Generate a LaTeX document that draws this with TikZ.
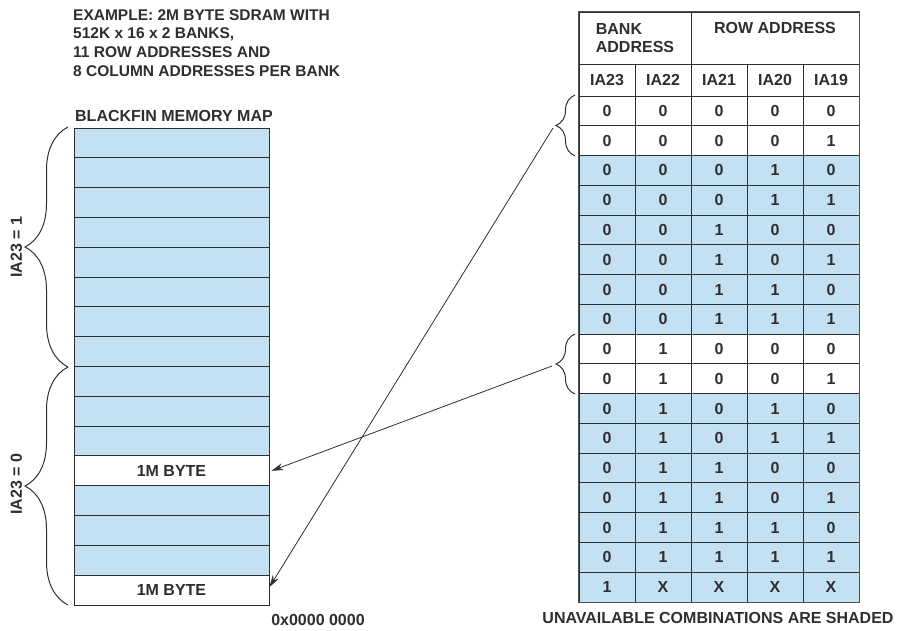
\documentclass[tikz,border=0pt]{standalone}
\usepackage{fontspec}
\setmainfont{Liberation Sans}
\usetikzlibrary{arrows.meta,decorations.pathreplacing,positioning}

\definecolor{mapblue}{HTML}{C4E1F3}
\definecolor{inkgray}{HTML}{2E2E2E}
\definecolor{framegray}{HTML}{505050}

\tikzset{
  txt/.style={text=inkgray, font=\bfseries\fontsize{16}{18.8}\selectfont, inner sep=0pt},
  maprow/.style={draw=inkgray, line width=0.9pt, fill=mapblue, minimum width=195pt, minimum height=29.81pt, inner sep=0pt, txt},
  emptyrow/.style={maprow, fill=white},
  cell/.style={draw=inkgray, line width=0.9pt, minimum width=56pt, minimum height=29.76pt, inner sep=0pt, txt},
  shcell/.style={cell, fill=mapblue},
  hcell/.style={cell, minimum height=32pt},
  bracepath/.style={draw=inkgray, line width=1pt, decorate, decoration={brace, amplitude=#1}},
  link/.style={draw=inkgray, line width=0.8pt, -{Stealth[length=12pt, width=7pt]}}
}

\begin{document}
\begin{tikzpicture}[x=1pt, y=-1pt]
\useasboundingbox (0,0) rectangle (899,630);

% notes
\node[txt, font=\bfseries\fontsize{15.5}{18.8}\selectfont, align=left, anchor=north west] (title) at (73,9) {EXAMPLE: 2M BYTE SDRAM WITH\\512K x 16 x 2 BANKS,\\11 ROW ADDRESSES AND\\8 COLUMN ADDRESSES PER BANK};
\node[txt] (maptitle) at (174,116) {BLACKFIN MEMORY MAP};

% memory map
\node[maprow] (m1) at (171.5,142.91) {};
\node[maprow] (m2) at (171.5,172.72) {};
\node[maprow] (m3) at (171.5,202.53) {};
\node[maprow] (m4) at (171.5,232.34) {};
\node[maprow] (m5) at (171.5,262.16) {};
\node[maprow] (m6) at (171.5,291.97) {};
\node[maprow] (m7) at (171.5,321.78) {};
\node[maprow] (m8) at (171.5,351.59) {};
\node[maprow] (m9) at (171.5,381.41) {};
\node[maprow] (m10) at (171.5,411.22) {};
\node[maprow] (m11) at (171.5,441.03) {};
\node[emptyrow] (m12) at (171.5,470.84) {1M BYTE};
\node[maprow] (m13) at (171.5,500.66) {};
\node[maprow] (m14) at (171.5,530.47) {};
\node[maprow] (m15) at (171.5,560.28) {};
\node[emptyrow] (m16) at (171.5,590.09) {1M BYTE};
\node[txt] (base) at (318,620) {0x0000 0000};

% bank braces
\draw[bracepath=43pt] (68,367) -- (68,127);
\draw[bracepath=43pt] (68,605) -- (68,367);
\node[txt, rotate=90] (bank1) at (16.5,247) {IA23 = 1};
\node[txt, rotate=90] (bank0) at (16.5,484) {IA23 = 0};

% address table
\node[hcell, minimum width=112pt, minimum height=52pt, align=left] (bank) at (635,38) {BANK\\ADDRESS};
\node[hcell, minimum width=168pt, minimum height=52pt] (rowhd) at (775,38) {};
\node[txt, below=11pt of rowhd.north] (rowtxt) {ROW ADDRESS};
\node[hcell] (ia23) at (607,80) {IA23};
\node[hcell] (ia22) at (663,80) {IA22};
\node[hcell] (ia21) at (719,80) {IA21};
\node[hcell] (ia20) at (775,80) {IA20};
\node[hcell] (ia19) at (831,80) {IA19};

\node[cell] (r1a) at (607,110.9) {0}; \node[cell] (r1b) at (663,110.9) {0}; \node[cell] (r1c) at (719,110.9) {0}; \node[cell] (r1d) at (775,110.9) {0}; \node[cell] (r1e) at (831,110.9) {0};
\node[cell] (r2a) at (607,140.6) {0}; \node[cell] (r2b) at (663,140.6) {0}; \node[cell] (r2c) at (719,140.6) {0}; \node[cell] (r2d) at (775,140.6) {0}; \node[cell] (r2e) at (831,140.6) {1};
\node[shcell] (r3a) at (607,170.4) {0}; \node[shcell] (r3b) at (663,170.4) {0}; \node[shcell] (r3c) at (719,170.4) {0}; \node[shcell] (r3d) at (775,170.4) {1}; \node[shcell] (r3e) at (831,170.4) {0};
\node[shcell] (r4a) at (607,200.2) {0}; \node[shcell] (r4b) at (663,200.2) {0}; \node[shcell] (r4c) at (719,200.2) {0}; \node[shcell] (r4d) at (775,200.2) {1}; \node[shcell] (r4e) at (831,200.2) {1};
\node[shcell] (r5a) at (607,229.9) {0}; \node[shcell] (r5b) at (663,229.9) {0}; \node[shcell] (r5c) at (719,229.9) {1}; \node[shcell] (r5d) at (775,229.9) {0}; \node[shcell] (r5e) at (831,229.9) {0};
\node[shcell] (r6a) at (607,259.7) {0}; \node[shcell] (r6b) at (663,259.7) {0}; \node[shcell] (r6c) at (719,259.7) {1}; \node[shcell] (r6d) at (775,259.7) {0}; \node[shcell] (r6e) at (831,259.7) {1};
\node[shcell] (r7a) at (607,289.5) {0}; \node[shcell] (r7b) at (663,289.5) {0}; \node[shcell] (r7c) at (719,289.5) {1}; \node[shcell] (r7d) at (775,289.5) {1}; \node[shcell] (r7e) at (831,289.5) {0};
\node[shcell] (r8a) at (607,319.2) {0}; \node[shcell] (r8b) at (663,319.2) {0}; \node[shcell] (r8c) at (719,319.2) {1}; \node[shcell] (r8d) at (775,319.2) {1}; \node[shcell] (r8e) at (831,319.2) {1};
\node[cell] (r9a) at (607,349.0) {0}; \node[cell] (r9b) at (663,349.0) {1}; \node[cell] (r9c) at (719,349.0) {0}; \node[cell] (r9d) at (775,349.0) {0}; \node[cell] (r9e) at (831,349.0) {0};
\node[cell] (r10a) at (607,378.8) {0}; \node[cell] (r10b) at (663,378.8) {1}; \node[cell] (r10c) at (719,378.8) {0}; \node[cell] (r10d) at (775,378.8) {0}; \node[cell] (r10e) at (831,378.8) {1};
\node[shcell] (r11a) at (607,408.5) {0}; \node[shcell] (r11b) at (663,408.5) {1}; \node[shcell] (r11c) at (719,408.5) {0}; \node[shcell] (r11d) at (775,408.5) {1}; \node[shcell] (r11e) at (831,408.5) {0};
\node[shcell] (r12a) at (607,438.3) {0}; \node[shcell] (r12b) at (663,438.3) {1}; \node[shcell] (r12c) at (719,438.3) {0}; \node[shcell] (r12d) at (775,438.3) {1}; \node[shcell] (r12e) at (831,438.3) {1};
\node[shcell] (r13a) at (607,468.1) {0}; \node[shcell] (r13b) at (663,468.1) {1}; \node[shcell] (r13c) at (719,468.1) {1}; \node[shcell] (r13d) at (775,468.1) {0}; \node[shcell] (r13e) at (831,468.1) {0};
\node[shcell] (r14a) at (607,497.8) {0}; \node[shcell] (r14b) at (663,497.8) {1}; \node[shcell] (r14c) at (719,497.8) {1}; \node[shcell] (r14d) at (775,497.8) {0}; \node[shcell] (r14e) at (831,497.8) {1};
\node[shcell] (r15a) at (607,527.6) {0}; \node[shcell] (r15b) at (663,527.6) {1}; \node[shcell] (r15c) at (719,527.6) {1}; \node[shcell] (r15d) at (775,527.6) {1}; \node[shcell] (r15e) at (831,527.6) {0};
\node[shcell] (r16a) at (607,557.4) {0}; \node[shcell] (r16b) at (663,557.4) {1}; \node[shcell] (r16c) at (719,557.4) {1}; \node[shcell] (r16d) at (775,557.4) {1}; \node[shcell] (r16e) at (831,557.4) {1};
\node[shcell] (r17a) at (607,587.1) {1}; \node[shcell] (r17b) at (663,587.1) {X}; \node[shcell] (r17c) at (719,587.1) {X}; \node[shcell] (r17d) at (775,587.1) {X}; \node[shcell] (r17e) at (831,587.1) {X};
\draw[framegray, line width=1.8pt] (bank.north west) rectangle (r17e.south east);
\node[txt] (shadenote) at (718,618) {UNAVAILABLE COMBINATIONS ARE SHADED};

% row braces and links
\draw[bracepath=19pt] (575,156) -- (575,95);
\draw[bracepath=19pt] (575,394) -- (575,334);
\coordinate (pick1) at (553,128);
\coordinate (pick2) at (552,366);
\draw[link] (pick1) -- ([yshift=3pt]m16.east);
\draw[link] (pick2) -- ([xshift=2pt]m12.east);
\end{tikzpicture}
\end{document}
